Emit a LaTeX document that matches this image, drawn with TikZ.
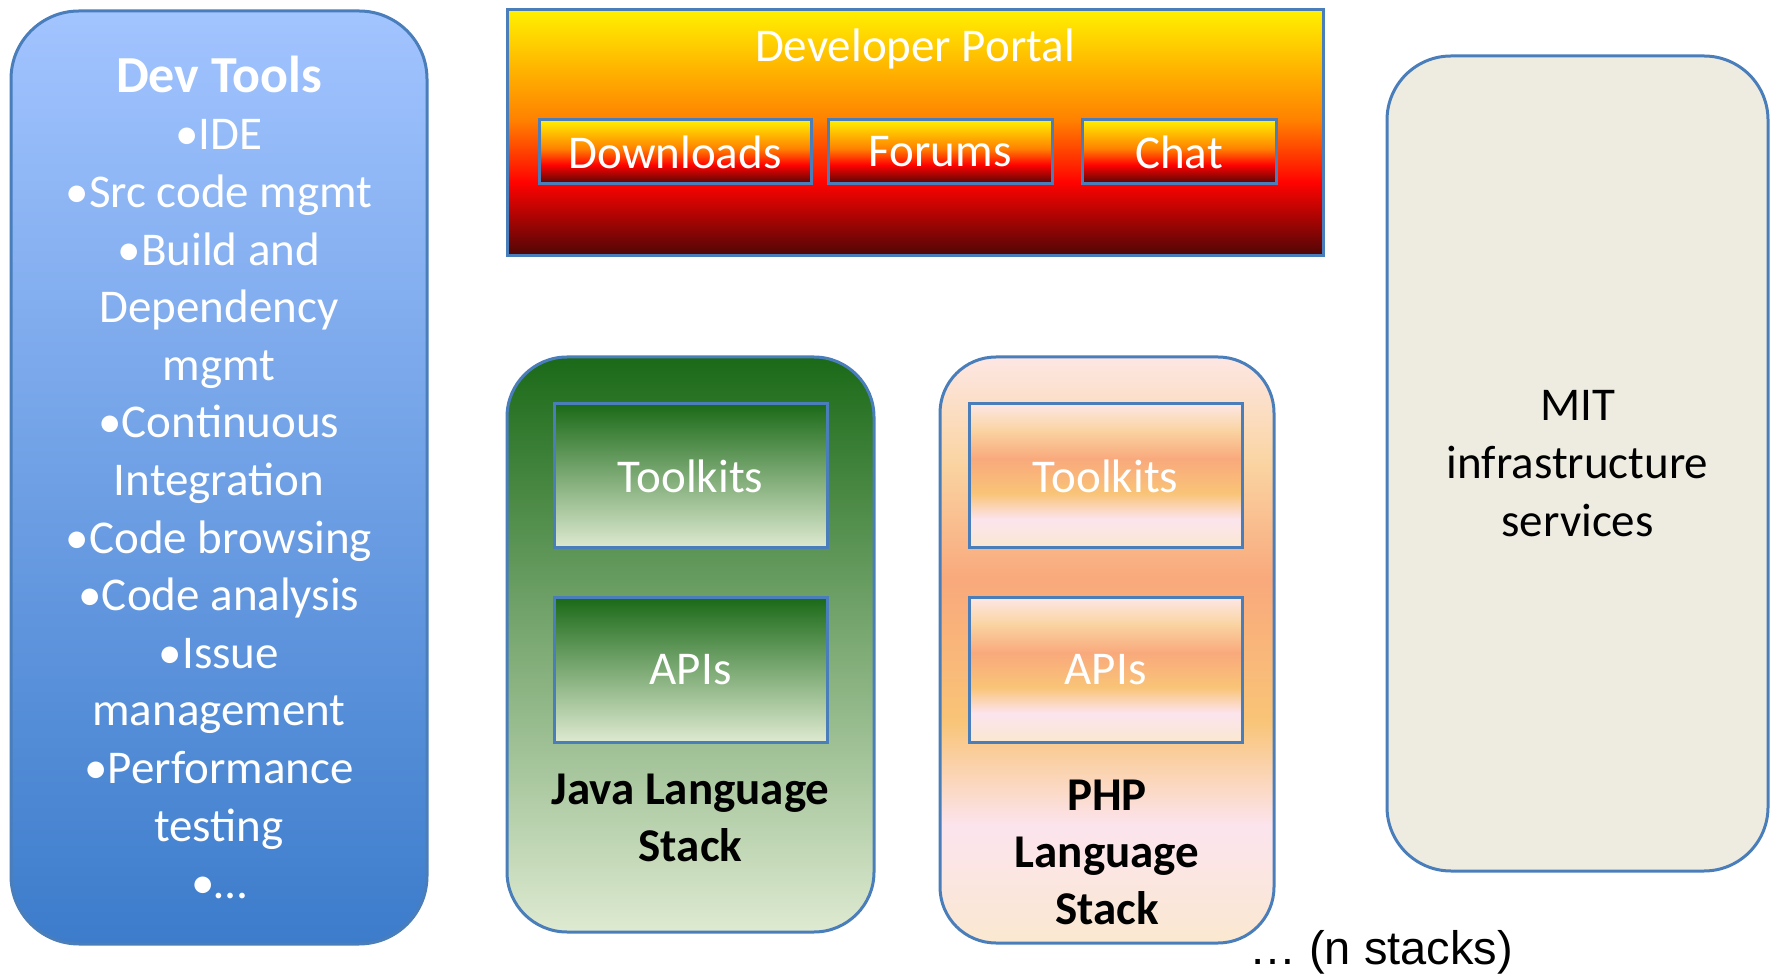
\documentclass[tikz,border=0pt]{standalone}
\usepackage{xcolor}
\usepackage{fontspec}
\setmainfont{Carlito}
\newfontfamily\arialfont{Liberation Sans}
\usepackage{tikz}
\usetikzlibrary{positioning}

\definecolor{edgeblue}{HTML}{4A7EBB}
\definecolor{devtop}{HTML}{A2C4FF}
\definecolor{devbot}{HTML}{3C7CCB}
\definecolor{mitfill}{HTML}{EEECE1}
\definecolor{fireY}{HTML}{FFF000}
\definecolor{fireO}{HTML}{FF8000}
\definecolor{fireR}{HTML}{FF0300}
\definecolor{fireD}{HTML}{4D0606}
\definecolor{javaD}{HTML}{1B6A18}
\definecolor{javaM}{HTML}{7EA85B}
\definecolor{javaL}{HTML}{DEEAD1}
\definecolor{peachA}{HTML}{FDE7E4}
\definecolor{peachB}{HTML}{FAD4A2}
\definecolor{peachC}{HTML}{F9A97C}
\definecolor{peachD}{HTML}{F9C477}
\definecolor{peachE}{HTML}{FCE4EE}
\definecolor{peachF}{HTML}{FBE8D0}

% gradients (inner 25bp--75bp is stretched over the shape)
\pgfdeclareverticalshading{firegrad}{100bp}{color(0bp)=(fireD); color(25bp)=(fireD);
  color(40bp)=(fireR); color(52.5bp)=(fireO); color(75bp)=(fireY); color(100bp)=(fireY)}
\pgfdeclareverticalshading{peachgrad}{100bp}{color(0bp)=(peachF); color(25bp)=(peachF);
  color(35bp)=(peachE); color(44bp)=(peachD); color(56bp)=(peachC); color(66bp)=(peachB);
  color(75bp)=(peachA); color(100bp)=(peachA)}

\tikzset{
  panel/.style={draw=edgeblue, line width=1.5pt, inner sep=0pt, align=center},
  bigfont/.style={font=\fontsize{23.5}{28.8}\selectfont},
  boldfont/.style={font=\fontsize{23.5}{28.5}\selectfont\bfseries},
  firebox/.style={panel, shading=firegrad, text=white, bigfont},
  greenbox/.style={panel, top color=javaD, middle color=javaM, bottom color=javaL, text=white, bigfont},
  peachbox/.style={panel, shading=peachgrad, text=white, bigfont},
  tilebox/.style={minimum width=136.5pt, minimum height=72pt}
}

\begin{document}
\begin{tikzpicture}[x=0.5pt,y=-0.5pt]
  \useasboundingbox (0,0) rectangle (1771,977);

  % Dev tools column
  \node[panel, rounded corners=34pt, top color=devtop, bottom color=devbot,
    minimum width=208pt, minimum height=466.5pt, text=white, bigfont] (devtools) at (219,477.5)
    {{\fontsize{26}{29.8}\selectfont\bfseries Dev Tools}\\ •IDE\\ •Src code mgmt\\ •Build and\\
     Dependency\\ mgmt\\ •Continuous\\ Integration\\ •Code browsing\\ •Code analysis\\
     •Issue\\ management\\ •Performance\\ testing\\ •…};

  % Developer portal
  \node[firebox, minimum width=408pt, minimum height=123pt] (portal) at (915,133) {};
  \node[text=white, bigfont] (portaltitle) at (915,49) {Developer Portal};
  \node[firebox, minimum width=136pt, minimum height=32pt] (downloads) at (675,152) {Downloads};
  \node[firebox, minimum width=112pt, minimum height=32pt] (forums) at (940,152) {Forums};
  \node[firebox, minimum width=97pt, minimum height=32pt] (chat) at (1179,152) {Chat};

  % Java stack
  \node[panel, rounded corners=30pt, top color=javaD, middle color=javaM, bottom color=javaL,
    minimum width=183.5pt, minimum height=287.5pt] (javastack) at (690.5,644.5) {};
  \node[greenbox, tilebox] (javatoolkits) at (690.5,476) {Toolkits};
  \node[greenbox, tilebox, below=23.5pt of javatoolkits] (javaapis) {APIs};
  \node[boldfont, align=center] (javalabel) at (690.5,818) {Java Language\\ Stack};

  % PHP stack
  \node[panel, rounded corners=28pt, shading=peachgrad,
    minimum width=167pt, minimum height=293pt] (phpstack) at (1107,650) {};
  \node[peachbox, tilebox] (phptoolkits) at (1105.5,476) {Toolkits};
  \node[peachbox, tilebox, below=23.5pt of phptoolkits] (phpapis) {APIs};
  \node[boldfont, align=center] (phplabel) at (1107,852) {PHP\\ Language\\ Stack};

  % MIT services
  \node[panel, rounded corners=32pt, fill=mitfill, minimum width=190.5pt,
    minimum height=407.5pt, bigfont] (mit) at (1577.5,463.5) {MIT\\ infrastructure\\ services};

  \node[font=\arialfont\fontsize{23.5}{28}\selectfont] (more) at (1381,952) {… (n stacks)};
\end{tikzpicture}
\end{document}
